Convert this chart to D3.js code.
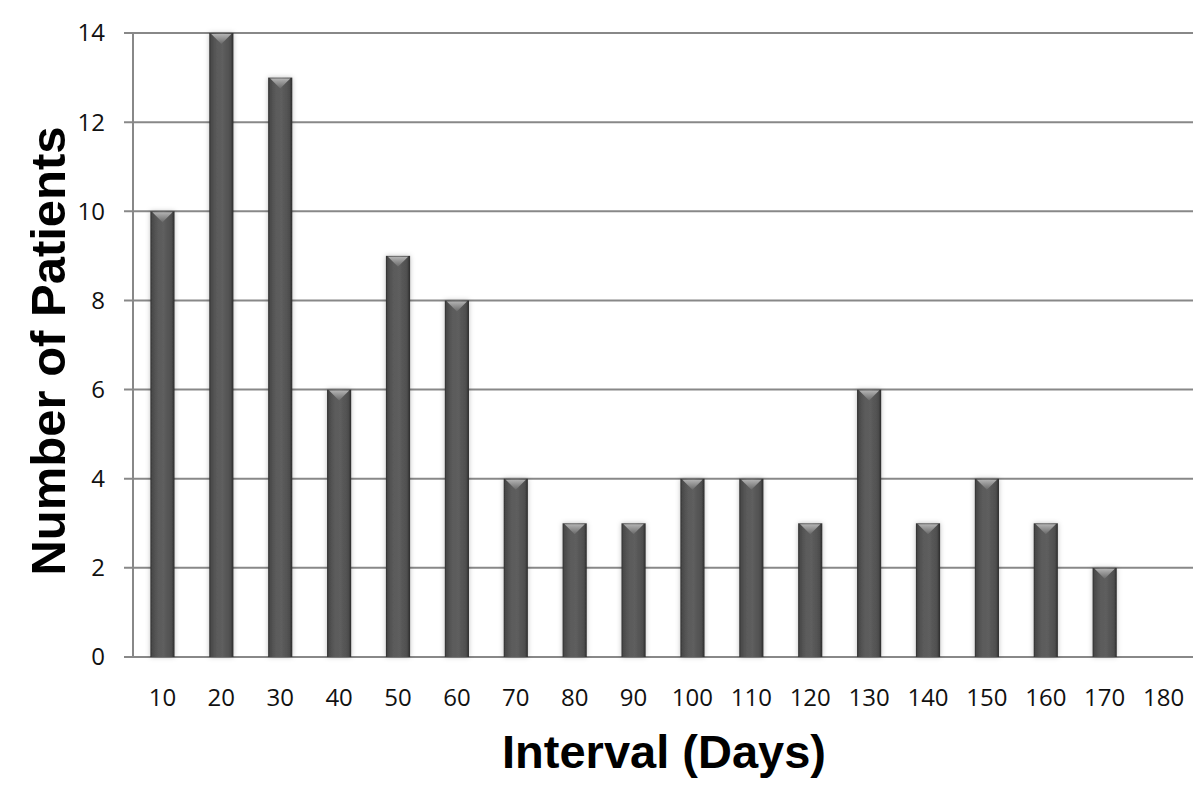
<!DOCTYPE html>
<html><head><meta charset="utf-8">
<script src="https://cdn.jsdelivr.net/npm/d3@7"></script>
<style>body{margin:0;background:#fff}svg{display:block}</style>
</head><body><div id="chart"></div>
<script>
const categories = ["10","20","30","40","50","60","70","80","90","100","110","120","130","140","150","160","170","180"];
const patients = [10,14,13,6,9,8,4,3,3,4,4,3,6,3,4,3,2,0];
const yTicks = [0,2,4,6,8,10,12,14];

const W=1200,H=803;
const m={left:133,right:7,top:33,bottom:146};
const svg=d3.select("#chart").append("svg").attr("width",W).attr("height",H);
const defs=svg.append("defs");
const g1=defs.append("linearGradient").attr("id","barGrad").attr("x1","0").attr("x2","1").attr("y1","0").attr("y2","0");
[["0%","#2e2e2e"],["8%","#4a4a4a"],["30%","#5a5a5a"],["55%","#5e5e5e"],["88%","#4e4e4e"],["100%","#2a2a2a"]].forEach(s=>g1.append("stop").attr("offset",s[0]).attr("stop-color",s[1]));
const g2=defs.append("linearGradient").attr("id","topGrad").attr("x1","0").attr("x2","0").attr("y1","0").attr("y2","1");
[["0%","#bdbdbd"],["100%","#6a6a6a"]].forEach(s=>g2.append("stop").attr("offset",s[0]).attr("stop-color",s[1]));
const f=defs.append("filter").attr("id","glow").attr("x","-50%").attr("y","-10%").attr("width","200%").attr("height","120%");
f.append("feDropShadow").attr("dx",0).attr("dy",0).attr("stdDeviation",2.5).attr("flood-color","#000").attr("flood-opacity",0.25);

const x=d3.scaleBand().domain(categories).range([m.left,W-m.right]).paddingInner(0.59).paddingOuter(0.295);
const y=d3.scaleLinear().domain([0,14]).range([H-m.bottom,m.top]);

// gridlines
svg.append("g").selectAll("line").data(yTicks).join("line")
 .attr("x1",124).attr("x2",W-m.right).attr("y1",d=>y(d)).attr("y2",d=>y(d))
 .attr("stroke","#888").attr("stroke-width",2);
// y axis line
svg.append("line").attr("x1",m.left).attr("x2",m.left).attr("y1",y(14)).attr("y2",y(0)).attr("stroke","#888").attr("stroke-width",2);

// y tick labels
svg.append("g").selectAll("text").data(yTicks).join("text")
 .attr("x",105).attr("y",d=>y(d)).attr("dy","0.35em").attr("text-anchor","end")
 .attr("font-family","'Open Sans', sans-serif").attr("font-size",24).attr("fill","#111").text(d=>d);
// x tick labels
svg.append("g").selectAll("text").data(categories).join("text")
 .attr("x",d=>x(d)+x.bandwidth()/2).attr("y",706).attr("text-anchor","middle")
 .attr("font-family","'Open Sans', sans-serif").attr("font-size",24).attr("fill","#111").text(d=>d);

// bars
const bars=svg.append("g").selectAll("g").data(categories.map((c,i)=>({c,v:patients[i]})).filter(d=>d.v>0)).join("g");
bars.append("rect").attr("x",d=>x(d.c)).attr("y",d=>y(d.v)).attr("width",x.bandwidth()).attr("height",d=>y(0)-y(d.v))
 .attr("fill","url(#barGrad)").attr("filter","url(#glow)");
bars.append("path").attr("d",d=>{const x0=x(d.c)+2,x1=x(d.c)+x.bandwidth()-2,yt=y(d.v)+1,xm=(x0+x1)/2;return `M${x0},${yt}L${x1},${yt}L${xm},${yt+10}Z`;})
 .attr("fill","url(#topGrad)").attr("opacity",0.9);

// axis titles
svg.append("text").attr("x",664).attr("y",768).attr("text-anchor","middle")
 .attr("font-family","'Liberation Sans', Arial, sans-serif").attr("font-weight","bold").attr("font-size",47).attr("fill","#000").text("Interval (Days)");
svg.append("text").attr("transform","translate(65,351) rotate(-90)").attr("text-anchor","middle")
 .attr("font-family","'Liberation Sans', Arial, sans-serif").attr("font-weight","bold").attr("font-size",49).attr("fill","#000").text("Number of Patients");
</script></body></html>
